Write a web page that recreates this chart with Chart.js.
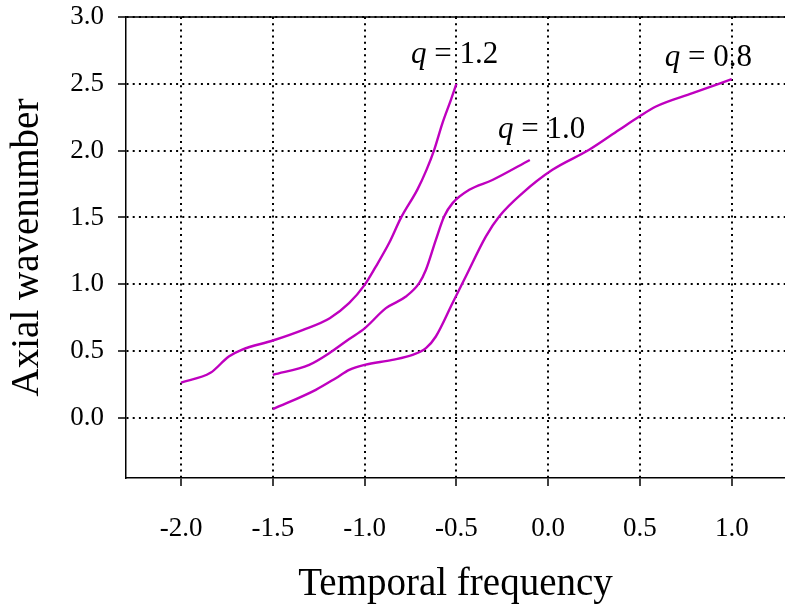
<!DOCTYPE html>
<html>
<head>
<meta charset="utf-8">
<script src="https://cdn.jsdelivr.net/npm/chart.js@4/dist/chart.umd.min.js"></script>
<style>
  html, body { margin: 0; padding: 0; background: #ffffff; }
  canvas { display: block; }
</style>
</head>
<body>
<canvas id="c" width="785" height="604"></canvas>
<script>
// Dispersion branches: axial wavenumber against temporal frequency
const q12X = [-2.0, -1.84, -1.74, -1.67, -1.5, -1.335, -1.19, -1.085, -1.0, -0.94, -0.866, -0.803, -0.712, -0.663, -0.621, -0.576, -0.53, -0.5];
const q12Y = [0.264, 0.337, 0.459, 0.509, 0.579, 0.659, 0.746, 0.858, 0.995, 1.13, 1.31, 1.495, 1.71, 1.856, 2.006, 2.206, 2.38, 2.5];

const q10X = [-1.5, -1.302, -1.193, -1.084, -1.0, -0.884, -0.775, -0.703, -0.666, -0.612, -0.567, -0.521, -0.43, -0.304, -0.1];
const q10Y = [0.322, 0.397, 0.484, 0.59, 0.67, 0.821, 0.908, 1.008, 1.108, 1.332, 1.507, 1.607, 1.707, 1.78, 1.93];

const q08X = [-1.5, -1.266, -1.157, -1.084, -1.0, -0.849, -0.739, -0.666, -0.612, -0.521, -0.449, -0.34, -0.267, -0.14, 0.023, 0.223, 0.387, 0.496, 0.587, 0.786, 1.0];
const q08Y = [0.065, 0.21, 0.297, 0.359, 0.397, 0.434, 0.472, 0.522, 0.609, 0.859, 1.058, 1.357, 1.507, 1.682, 1.856, 2.006, 2.156, 2.255, 2.33, 2.43, 2.535];

const xTicks = [-2.0, -1.5, -1.0, -0.5, 0.0, 0.5, 1.0];
const yTicks = [0.0, 0.5, 1.0, 1.5, 2.0, 2.5, 3.0];

// Curve labels: q value, centre x and baseline y in data units
const labelQ = ['1.2', '1.0', '0.8'];
const labelX = [-0.51, -0.036, 0.872];
const labelY = [2.657, 2.094, 2.63];

const LINE_COLOR = 'rgb(191, 0, 191)';
const SERIF = '"Liberation Serif", "DejaVu Serif", serif';

function pairs(xs, ys) {
  return xs.map((x, i) => ({ x: x, y: ys[i] }));
}

function series(xs, ys) {
  return {
    data: pairs(xs, ys),
    borderColor: LINE_COLOR,
    borderWidth: 2.4,
    pointRadius: 0,
    fill: false,
    cubicInterpolationMode: 'monotone'
  };
}

// Solid frame line along the top of the plot area
const topFrame = {
  id: 'topFrame',
  afterDatasetsDraw(chart) {
    const { ctx, chartArea } = chart;
    ctx.save();
    ctx.strokeStyle = '#000';
    ctx.lineWidth = 1.5;
    ctx.beginPath();
    ctx.moveTo(chartArea.left, chartArea.top);
    ctx.lineTo(chartArea.right, chartArea.top);
    ctx.stroke();
    ctx.restore();
  }
};

// "q = value" labels with an italic q
const curveLabels = {
  id: 'curveLabels',
  afterDatasetsDraw(chart) {
    const { ctx } = chart;
    const xs = chart.scales.x, ys = chart.scales.y;
    const italic = 'italic 31px ' + SERIF;
    const upright = '31px ' + SERIF;
    ctx.save();
    ctx.fillStyle = '#000';
    ctx.textBaseline = 'alphabetic';
    ctx.textAlign = 'left';
    labelQ.forEach((q, i) => {
      const rest = ' = ' + q;
      ctx.font = italic;
      const wq = ctx.measureText('q').width;
      ctx.font = upright;
      const wr = ctx.measureText(rest).width;
      const cx = xs.getPixelForValue(labelX[i]);
      const by = ys.getPixelForValue(labelY[i]);
      const left = cx - (wq + wr) / 2;
      ctx.font = italic;
      ctx.fillText('q', left, by);
      ctx.font = upright;
      ctx.fillText(rest, left + wq, by);
    });
    ctx.restore();
  }
};

const gridCommon = {
  color: '#000',
  lineWidth: 2,
  drawTicks: true,
  tickLength: 8,
  tickColor: '#000',
  tickWidth: 1.5
};

new Chart(document.getElementById('c'), {
  type: 'line',
  data: {
    datasets: [series(q12X, q12Y), series(q10X, q10Y), series(q08X, q08Y)]
  },
  plugins: [topFrame, curveLabels],
  options: {
    responsive: false,
    animation: false,
    layout: { padding: { top: 17, right: 0, bottom: 0, left: 0 } },
    plugins: {
      legend: { display: false },
      tooltip: { enabled: false }
    },
    scales: {
      x: {
        type: 'linear',
        min: -2.3,
        max: 1.29,
        afterBuildTicks(scale) { scale.ticks = xTicks.map(v => ({ value: v })); },
        afterFit(scale) {
          scale.height = 126;
          scale.paddingLeft = 0;
          scale.paddingRight = 0;
        },
        grid: gridCommon,
        border: { display: true, color: '#000', width: 1.5, dash: [2, 4.2] },
        ticks: {
          color: '#000',
          padding: 27,
          maxRotation: 0,
          autoSkip: false,
          font: { family: SERIF, size: 27, lineHeight: 1.2 },
          callback: v => Number(v).toFixed(1)
        },
        title: {
          display: true,
          text: 'Temporal frequency',
          color: '#000',
          font: { family: SERIF, size: 39, lineHeight: 1 },
          padding: { top: 0, bottom: 0 }
        }
      },
      y: {
        type: 'linear',
        min: -0.45,
        max: 3.0,
        afterBuildTicks(scale) { scale.ticks = yTicks.map(v => ({ value: v })); },
        afterFit(scale) {
          scale.width = 126;
          scale.paddingTop = 0;
          scale.paddingBottom = 0;
        },
        grid: gridCommon,
        border: { display: true, color: '#000', width: 1.5, dash: [2, 4.2] },
        ticks: {
          color: '#000',
          padding: 14,
          autoSkip: false,
          font: { family: SERIF, size: 27, lineHeight: 1.2 },
          callback: v => Number(v).toFixed(1)
        },
        title: {
          display: true,
          text: 'Axial wavenumber',
          color: '#000',
          font: { family: SERIF, size: 39, lineHeight: 1.2 },
          padding: { top: 4, bottom: 0 }
        }
      }
    }
  }
});
</script>
</body>
</html>
